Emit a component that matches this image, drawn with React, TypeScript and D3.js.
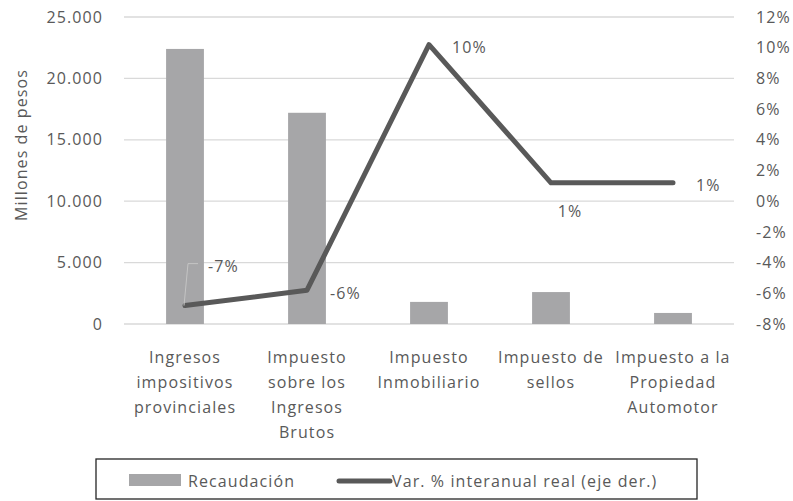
import * as d3 from 'd3';

const categories = [
  ['Ingresos', 'impositivos', 'provinciales'],
  ['Impuesto', 'sobre los', 'Ingresos', 'Brutos'],
  ['Impuesto', 'Inmobiliario'],
  ['Impuesto de', 'sellos'],
  ['Impuesto a la', 'Propiedad', 'Automotor'],
];
const recaudacion = [22400, 17200, 1800, 2600, 900];
const variacion = [-6.8, -5.8, 10.2, 1.2, 1.2];
const leftTicks = [0, 5000, 10000, 15000, 20000, 25000];
const rightTicks = [-8, -6, -4, -2, 0, 2, 4, 6, 8, 10, 12];
const labelPlacement = ['leader', 'right', 'right', 'below', 'right'];

const W = 793;
const H = 501;
const plot = { left: 124, right: 734, top: 17, bottom: 324 };
const font = '"Open Sans", "Noto Sans", sans-serif';
const fs = 16;
const ls = 1.1;
const textColor = '#595959';
const barColor = '#a6a6a8';
const lineColor = '#595959';

const fmtThousands = (v: number) =>
  v === 0 ? '0' : d3.format(',')(v).replace(/,/g, '.');

export default function App() {
  const x = d3
    .scaleBand<number>()
    .domain(d3.range(categories.length))
    .range([plot.left, plot.right])
    .paddingInner(0.69)
    .paddingOuter(0.345);
  const cx = (i: number) => (x(i) ?? 0) + x.bandwidth() / 2;
  const yL = d3.scaleLinear().domain([0, 25000]).range([plot.bottom, plot.top]);
  const yR = d3.scaleLinear().domain([-8, 12]).range([plot.bottom, plot.top]);

  const line = d3
    .line<number>()
    .x((_, i) => cx(i))
    .y((d) => yR(d));

  const txt = { fontFamily: font, fontSize: fs, letterSpacing: ls, fill: textColor };

  return (
    <svg width={W} height={H} style={{ display: 'block', position: 'absolute', left: 0, top: 0 }}>
      <rect width={W} height={H} fill="#fff" />
      {leftTicks.map((t) => (
        <g key={t}>
          <line x1={plot.left} x2={plot.right} y1={yL(t)} y2={yL(t)} stroke="#d9d9d9" strokeWidth={1.3} />
          <text x={103} y={yL(t)} dy="0.35em" textAnchor="end" {...txt}>
            {fmtThousands(t)}
          </text>
        </g>
      ))}
      {rightTicks.map((t) => (
        <text key={t} x={756} y={yR(t)} dy="0.35em" {...txt}>
          {t}%
        </text>
      ))}
      <text transform={`translate(21,145) rotate(-90)`} textAnchor="middle" dy="0.35em" {...txt}>
        Millones de pesos
      </text>

      {recaudacion.map((v, i) => (
        <rect key={i} x={x(i)} y={yL(v)} width={x.bandwidth()} height={yL(0) - yL(v)} fill={barColor} />
      ))}

      <path
        d={line(variacion) ?? ''}
        fill="none"
        stroke={lineColor}
        strokeWidth={5}
        strokeLinejoin="round"
        strokeLinecap="round"
      />

      {variacion.map((v, i) => {
        const px = cx(i);
        const py = yR(v);
        const label = `${Math.round(v)}%`;
        const place = labelPlacement[i];
        if (place === 'leader') {
          return (
            <g key={i}>
              <polyline
                points={`${px - 1},${py} ${px + 3},${py - 42} ${px + 13},${py - 42}`}
                fill="none"
                stroke="#c4c4c4"
                strokeWidth={1}
              />
              <text x={px + 23} y={py - 39} dy="0.35em" {...txt}>
                {label}
              </text>
            </g>
          );
        }
        if (place === 'below') {
          return (
            <text key={i} x={px + 19} y={py + 29} dy="0.35em" textAnchor="middle" {...txt}>
              {label}
            </text>
          );
        }
        return (
          <text key={i} x={px + 23} y={py + 3} dy="0.35em" {...txt}>
            {label}
          </text>
        );
      })}

      {categories.map((lines, i) => (
        <text key={i} textAnchor="middle" {...txt}>
          {lines.map((l, j) => (
            <tspan key={j} x={cx(i)} y={357 + j * 25} dy="0.35em">
              {l}
            </tspan>
          ))}
        </text>
      ))}

      <rect x={96} y={459} width={601} height={40} fill="none" stroke="#262626" strokeWidth={1.3} />
      <rect x={129} y={474} width={52} height={12} fill={barColor} />
      <text x={188} y={481} dy="0.35em" {...txt}>
        Recaudación
      </text>
      <line x1={339} x2={390} y1={481} y2={481} stroke={lineColor} strokeWidth={5} strokeLinecap="round" />
      <text x={392} y={481} dy="0.35em" {...txt}>
        Var. % interanual real (eje der.)
      </text>
    </svg>
  );
}
